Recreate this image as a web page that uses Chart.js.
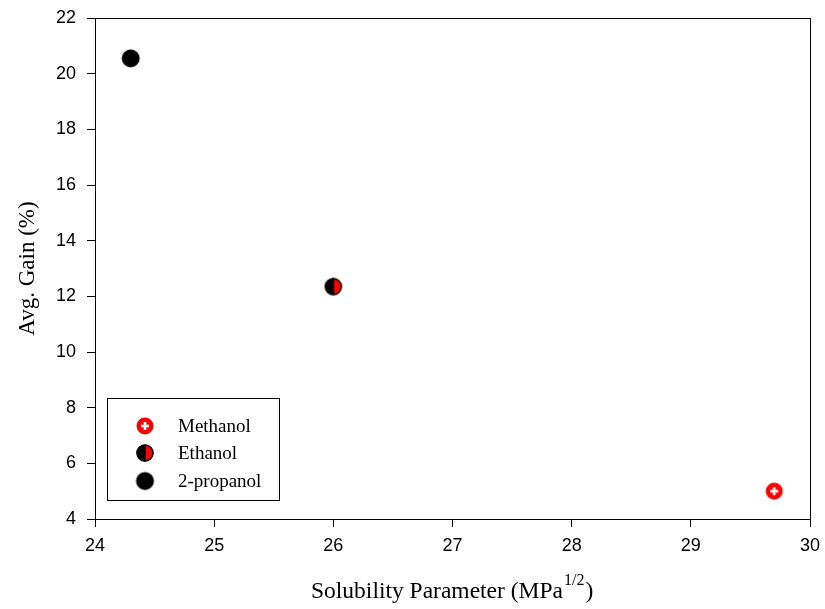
<!DOCTYPE html>
<html><head><meta charset="utf-8">
<script src="https://cdn.jsdelivr.net/npm/chart.js@4.4.0/dist/chart.umd.min.js"></script>
<style>html,body{margin:0;padding:0;background:#fff}#wrap{width:825px;height:609px}</style>
</head><body><div id="wrap"><canvas id="c" width="825" height="609"></canvas></div>
<script>
const seriesNames = ["Methanol", "Ethanol", "2-propanol"];
const solubility = [29.7, 26.0, 24.3];
const avgGain = [5.0, 12.35, 20.55];
const xTicks = [24, 25, 26, 27, 28, 29, 30];
const yTicks = [4, 6, 8, 10, 12, 14, 16, 18, 20, 22];

function marker(type, r) {
  const s = Math.ceil(r * 2 + 3);
  const c = document.createElement('canvas');
  c.width = s; c.height = s;
  const g = c.getContext('2d');
  const cx = s / 2, cy = s / 2;
  if (type === 0) {
    g.fillStyle = '#ff0000';
    g.beginPath(); g.arc(cx, cy, r, 0, Math.PI * 2); g.fill();
    g.fillStyle = '#fff';
    g.fillRect(cx - 4, cy - 1.3, 8, 2.6);
    g.fillRect(cx - 1.3, cy - 4, 2.6, 8);
  } else if (type === 1) {
    g.fillStyle = '#000';
    g.beginPath(); g.arc(cx, cy, r, Math.PI / 2, Math.PI * 1.5); g.closePath(); g.fill();
    g.fillStyle = '#ff0000';
    g.beginPath(); g.arc(cx, cy, r, -Math.PI / 2, Math.PI / 2); g.closePath(); g.fill();
    g.strokeStyle = '#000'; g.lineWidth = 1.5;
    g.beginPath(); g.arc(cx, cy, r - 0.5, 0, Math.PI * 2); g.stroke();
    g.beginPath(); g.moveTo(cx, cy - r); g.lineTo(cx, cy + r); g.stroke();
  } else {
    g.fillStyle = '#000';
    g.beginPath(); g.arc(cx, cy, r, 0, Math.PI * 2); g.fill();
  }
  return c;
}
const styles = [marker(0, 8.5), marker(1, 8.5), marker(2, 9)];

const datasets = seriesNames.map((n, i) => ({
  label: n,
  data: [{ x: solubility[i], y: avgGain[i] }],
  pointStyle: styles[i],
  pointRadius: 9,
  pointHoverRadius: 9
}));

const serif = '"Liberation Serif", "Times New Roman", serif';

const decor = {
  id: 'decor',
  afterDraw(chart) {
    const { ctx, chartArea: a } = chart;
    ctx.save();
    ctx.strokeStyle = '#000'; ctx.lineWidth = 1;
    ctx.strokeRect(a.left + 0.5, a.top + 0.5, a.right - a.left, a.bottom - a.top);
    // legend
    const lx = 107.5, ly = 398.5, lw = 172, lh = 102;
    ctx.strokeRect(lx, ly, lw, lh);
    ctx.font = '19px ' + serif;
    ctx.fillStyle = '#000';
    ctx.textBaseline = 'middle';
    ctx.textAlign = 'left';
    const rows = [426, 453, 481];
    chart.data.datasets.forEach((d, i) => {
      const img = d.pointStyle;
      ctx.drawImage(img, 145 - img.width / 2, rows[i] - img.height / 2);
      ctx.fillText(d.label, 178, rows[i] + 1);
    });
    // x title with superscript
    const base = 'Solubility Parameter (MPa';
    const sup = '1/2';
    const close = ')';
    const f1 = '23.5px ' + serif;
    const f2 = '16px ' + serif;
    ctx.font = f1; const w1 = ctx.measureText(base).width;
    ctx.font = f2; const w2 = ctx.measureText(sup).width;
    let x = 311;
    const y = 598;
    ctx.textBaseline = 'alphabetic';
    ctx.font = f1; ctx.fillText(base, x, y); x += w1;
    ctx.font = f2; ctx.fillText(sup, x + 1, y - 13); x += w2 + 2;
    ctx.font = f1; ctx.fillText(close, x, y);
    ctx.restore();
  }
};

new Chart(document.getElementById('c'), {
  type: 'scatter',
  data: { datasets },
  options: {
    responsive: false,
    animation: false,
    layout: { padding: { top: 18, right: 15, left: 0, bottom: 0 } },
    plugins: { legend: { display: false }, tooltip: { enabled: false } },
    scales: {
      x: {
        type: 'linear', min: 24, max: 30,
        afterBuildTicks(s) { s.ticks = xTicks.map(v => ({ value: v })); },
        afterFit(s) { s.height = 90; s.paddingLeft = 0; s.paddingRight = 0; },
        grid: { display: true, drawOnChartArea: false, drawTicks: true, tickLength: 8, color: '#000' },
        border: { display: true, color: '#000' },
        ticks: { color: '#000', padding: 8, font: { family: '"Liberation Sans", Arial, sans-serif', size: 18 }, maxRotation: 0 }
      },
      y: {
        type: 'linear', min: 4, max: 22,
        afterBuildTicks(s) { s.ticks = yTicks.map(v => ({ value: v })); },
        afterFit(s) { s.width = 95; s.paddingTop = 0; s.paddingBottom = 0; },
        grid: { display: true, drawOnChartArea: false, drawTicks: true, tickLength: 8, color: '#000' },
        border: { display: true, color: '#000' },
        ticks: { color: '#000', padding: 11, font: { family: '"Liberation Sans", Arial, sans-serif', size: 18 } },
        title: { display: true, text: 'Avg. Gain (%)', color: '#000', padding: { top: 14, bottom: 0 }, font: { family: serif, size: 23 } }
      }
    }
  },
  plugins: [decor]
});
</script></body></html>
